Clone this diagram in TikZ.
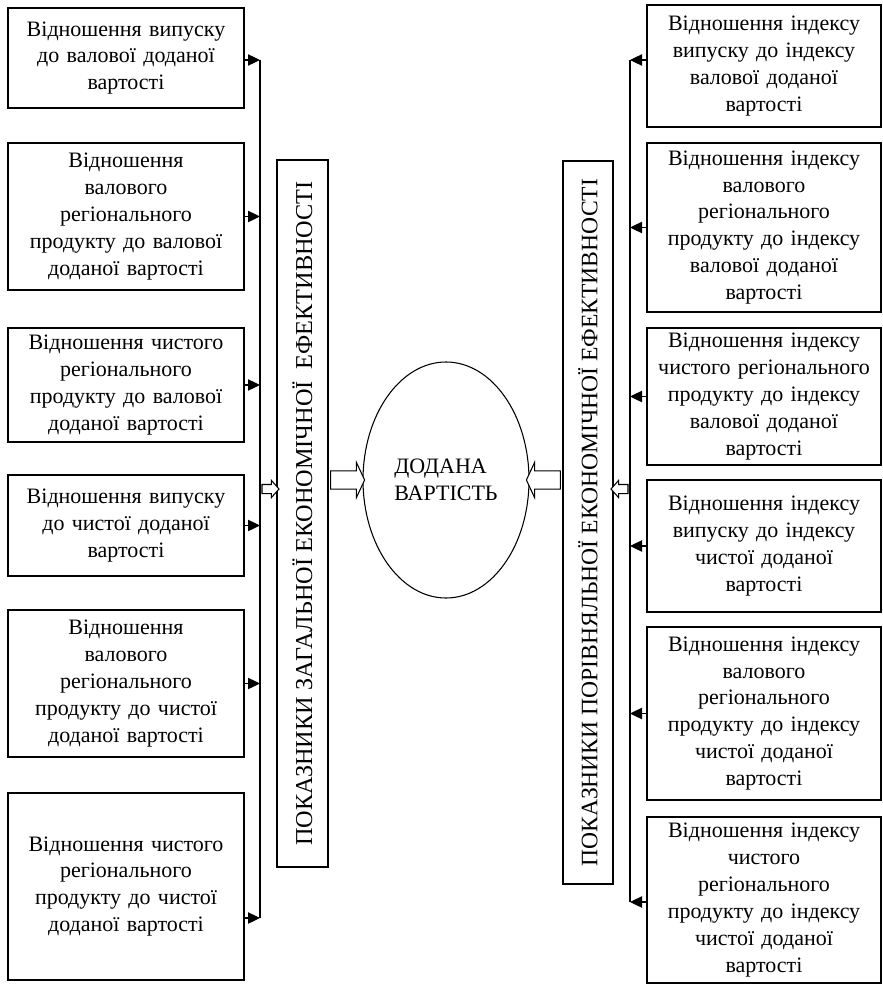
\documentclass[tikz,border=0pt]{standalone}
\usepackage{fontspec}
\setmainfont{Liberation Serif}
\usetikzlibrary{shapes.geometric,shapes.arrows,arrows.meta}
\begin{document}
\begin{tikzpicture}[x=0.75pt,y=-0.75pt,
		every node/.style={font=\fontsize{16.5}{20.2}\selectfont},
		blok/.style={draw,line width=0.9pt,align=center,inner sep=0pt},
		lblok/.style={blok,minimum width=177pt,text width=170pt},
		rblok/.style={blok,minimum width=175.5pt,text width=170pt},
		strilka/.style={line width=0.9pt,-{Triangle[length=9pt,width=8.5pt]}},
		porozhnia/.style={shape=single arrow,draw,line width=0.8pt,fill=white,inner xsep=0pt}]
		\useasboundingbox (0,0) rectangle (882,985);

		% Ліві блоки
		\node[lblok,minimum height=75pt] (l1) at (126,58) {Відношення випуску\\до валової доданої\\вартості};
		\node[lblok,minimum height=110.25pt] (l2) at (126,216.5) {Відношення\\валового\\регіонального\\продукту до валової\\доданої вартості};
		\node[lblok,minimum height=85.5pt] (l3) at (126,385) {Відношення чистого\\регіонального\\продукту до валової\\доданої вартості};
		\node[lblok,minimum height=75.75pt] (l4) at (126,525.5) {Відношення випуску\\до чистої доданої\\вартості};
		\node[lblok,minimum height=110.25pt] (l5) at (126,683.5) {Відношення\\валового\\регіонального\\продукту до чистої\\доданої вартості};
		\node[lblok,minimum height=140.25pt] (l6) at (126,886.5) {Відношення чистого\\регіонального\\продукту до чистої\\доданої вартості};

		% Праві блоки
		\node[rblok,minimum height=91.5pt] (r1) at (764,66) {Відношення індексу\\випуску до індексу\\валової доданої\\вартості};
		\node[rblok,minimum height=126.75pt] (r2) at (764,227.5) {Відношення індексу\\валового\\регіонального\\продукту до індексу\\валової доданої\\вартості};
		\node[rblok,minimum height=102.75pt] (r3) at (764,396.5) {Відношення індексу\\чистого регіонального\\продукту до індексу\\валової доданої\\вартості};
		\node[rblok,minimum height=99pt] (r4) at (764,546) {Відношення індексу\\випуску до індексу\\чистої доданої\\вартості};
		\node[rblok,minimum height=129.75pt] (r5) at (764,713.5) {Відношення індексу\\валового\\регіонального\\продукту до індексу\\чистої доданої\\вартості};
		\node[rblok,minimum height=124.5pt] (r6) at (764,900) {Відношення індексу\\чистого\\регіонального\\продукту до індексу\\чистої доданої\\вартості};

		% Показники
		\node[blok,rotate=90,minimum width=530.25pt,minimum height=38.25pt,font=\fontsize{18.2}{20}\selectfont] (zag) at (302.5,513.5) {ПОКАЗНИКИ ЗАГАЛЬНОЇ ЕКОНОМІЧНОЇ \ ЕФЕКТИВНОСТІ};
		\node[blok,rotate=90,minimum width=542.25pt,minimum height=37.5pt,font=\fontsize{17.7}{20}\selectfont] (por) at (588,522.5) {ПОКАЗНИКИ ПОРІВНЯЛЬНОЇ ЕКОНОМІЧНОЇ ЕФЕКТИВНОСТІ};
		\node[ellipse,draw,line width=0.8pt,minimum width=124.5pt,minimum height=177pt,align=left,inner sep=0pt] (dv) at (446,480) {ДОДАНА\\ВАРТІСТЬ};

		% Шини
		\coordinate (ltop) at (260,60);
		\coordinate (lbot) at (260,918);
		\coordinate (rtop) at (630,60);
		\coordinate (rbot) at (630,902);
		\draw[line width=0.9pt] (ltop) -- (lbot);
		\draw[line width=0.9pt] (rtop) -- (rbot);

		\draw[strilka] (l1.east |- ltop) -- (ltop);
		\draw[strilka] (l2.east) -- (l2.east -| ltop);
		\draw[strilka] (l3.east) -- (l3.east -| ltop);
		\draw[strilka] (l4.east) -- (l4.east -| ltop);
		\draw[strilka] (l5.east) -- (l5.east -| ltop);
		\draw[strilka] (l6.east |- lbot) -- (lbot);

		\draw[strilka] (r1.west |- rtop) -- (rtop);
		\draw[strilka] (r2.west) -- (r2.west -| rtop);
		\draw[strilka] (r3.west) -- (r3.west -| rtop);
		\draw[strilka] (r4.west) -- (r4.west -| rtop);
		\draw[strilka] (r5.west) -- (r5.west -| rtop);
		\draw[strilka] (r6.west |- rbot) -- (rbot);

		% Порожні стрілки
		\node[porozhnia,minimum height=12.75pt,inner ysep=3pt,single arrow head extend=3pt,single arrow tip angle=97] (pl) at (268.5,489) {};
		\node[porozhnia,minimum height=25.5pt,inner ysep=6.4pt,single arrow head extend=6.4pt,single arrow tip angle=130] (vl) at (345.5,480) {};
		\node[porozhnia,shape border rotate=180,minimum height=12.75pt,inner ysep=3pt,single arrow head extend=3pt,single arrow tip angle=97] (pr) at (621.5,489) {};
		\node[porozhnia,shape border rotate=180,minimum height=25.5pt,inner ysep=6.4pt,single arrow head extend=6.4pt,single arrow tip angle=130] (vr) at (545.5,480) {};
	\end{tikzpicture}
\end{document}
